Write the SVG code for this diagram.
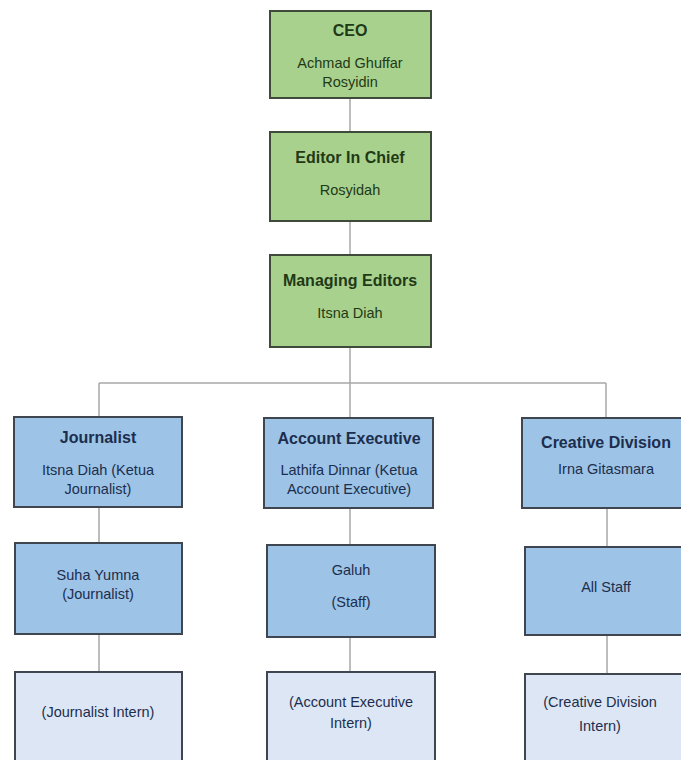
<svg xmlns="http://www.w3.org/2000/svg" width="681" height="760" viewBox="0 0 681 760">
<style>
.g{fill:#a9d18e;stroke:#3f4a3a;stroke-width:2}
.b{fill:#9dc3e6;stroke:#3f4650;stroke-width:2}
.l{fill:#dce6f4;stroke:#3f4650;stroke-width:2}
.c{fill:none;stroke:#a8a8a8;stroke-width:1.5}
text{font-family:"Liberation Sans",Arial,sans-serif;text-anchor:middle}
.tg{fill:#1f3a16}
.tb{fill:#1c2e4e}
.h{font-weight:bold;font-size:16px}
.r{font-size:14.5px}
</style>
<rect width="681" height="760" fill="#ffffff"/>
<g id="connectors">
<path class="c" d="M350 98V132M350 221V255M350 347V383M99 383H606M99 383V417M350 383V418M606 383V418"/>
<path class="c" d="M99 507V543M350 508V545M607 508V547"/>
<path class="c" d="M99 634V672M350 637V672M607 635V674"/>
</g>
<g id="ceo">
<rect class="g" x="270" y="11" width="161" height="87"/>
<text class="tg h" x="350" y="36">CEO</text>
<text class="tg r" x="350" y="68">Achmad Ghuffar</text>
<text class="tg r" x="350" y="87">Rosyidin</text>
</g>
<g id="editor-in-chief">
<rect class="g" x="270" y="132" width="161" height="89"/>
<text class="tg h" x="350" y="163">Editor In Chief</text>
<text class="tg r" x="350" y="195">Rosyidah</text>
</g>
<g id="managing-editors">
<rect class="g" x="270" y="255" width="161" height="92"/>
<text class="tg h" x="350" y="286">Managing Editors</text>
<text class="tg r" x="350" y="318">Itsna Diah</text>
</g>
<g id="journalist">
<rect class="b" x="14" y="417" width="168" height="90"/>
<text class="tb h" x="98" y="443">Journalist</text>
<text class="tb r" x="98" y="475">Itsna Diah (Ketua</text>
<text class="tb r" x="98" y="494">Journalist)</text>
</g>
<g id="account-executive">
<rect class="b" x="264" y="418" width="169" height="90"/>
<text class="tb h" x="349" y="444">Account Executive</text>
<text class="tb r" x="349" y="475">Lathifa Dinnar (Ketua</text>
<text class="tb r" x="349" y="494">Account Executive)</text>
</g>
<g id="creative-division">
<rect class="b" x="522" y="418" width="170" height="90"/>
<text class="tb h" x="606" y="448">Creative Division</text>
<text class="tb r" x="606" y="474">Irna Gitasmara</text>
</g>
<g id="suha-yumna">
<rect class="b" x="15" y="543" width="167" height="91"/>
<text class="tb r" x="98" y="580">Suha Yumna</text>
<text class="tb r" x="98" y="599">(Journalist)</text>
</g>
<g id="galuh">
<rect class="b" x="267" y="545" width="168" height="92"/>
<text class="tb r" x="351" y="575">Galuh</text>
<text class="tb r" x="351" y="607">(Staff)</text>
</g>
<g id="all-staff">
<rect class="b" x="525" y="547" width="170" height="88"/>
<text class="tb r" x="606" y="592">All Staff</text>
</g>
<g id="journalist-intern">
<rect class="l" x="15" y="672" width="167" height="100"/>
<text class="tb r" x="98" y="717">(Journalist Intern)</text>
</g>
<g id="account-executive-intern">
<rect class="l" x="267" y="672" width="168" height="100"/>
<text class="tb r" x="351" y="707">(Account Executive</text>
<text class="tb r" x="351" y="728">Intern)</text>
</g>
<g id="creative-division-intern">
<rect class="l" x="525" y="674" width="170" height="100"/>
<text class="tb r" x="600" y="707">(Creative Division</text>
<text class="tb r" x="600" y="731">Intern)</text>
</g>
</svg>
